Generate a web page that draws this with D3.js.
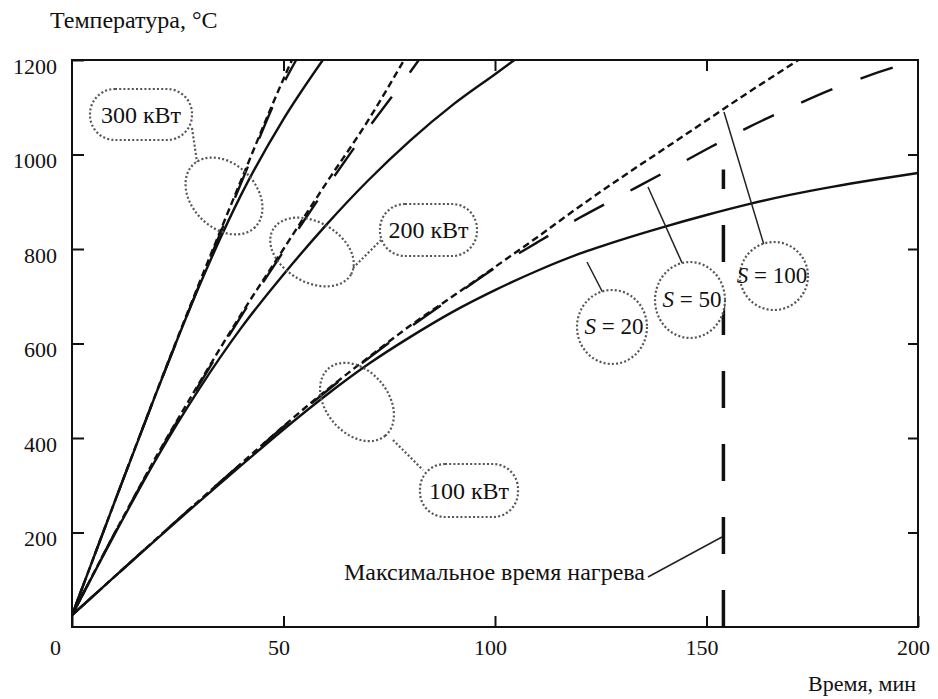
<!DOCTYPE html>
<html><head><meta charset="utf-8">
<script src="https://cdn.jsdelivr.net/npm/d3@7"></script>
<style>
html,body{margin:0;padding:0;background:#fff;}
text{font-family:"Liberation Serif","Times New Roman",serif;fill:#111;}
</style></head>
<body>
<svg id="chart" width="938" height="699"></svg>
<script>
// ---- data ----
const timeTicks = [0, 50, 100, 150, 200];
const tempTicks = [200, 400, 600, 800, 1000, 1200];
const topTicks = [50, 100, 150];

// 100 kW
const p100_S20  = [[0,25],[10,106],[20,186],[30,265],[40,342],[50,418],[60,490],[70,556],[80,614],[90,667],[100,713],[110,754],[120,790],[130,820],[140,847],[150,872],[160,895],[170,915],[180,932],[190,947],[200,961]];
const p100_S50  = [[0,25],[10,106],[20,187],[30,267],[40,346],[50,424],[60,498],[70,568],[80,635],[90,698],[100,760],[110,814],[120,866],[130,914],[140,962],[150,1011],[160,1058],[170,1100],[180,1139],[190,1172],[200,1200]];
const p100_S100 = [[0,25],[10,106],[20,187],[30,267],[40,346],[50,425],[60,500],[70,570],[80,638],[90,700],[100,762],[110,825],[120,890],[130,952],[140,1012],[150,1072],[160,1132],[170,1190],[171.7,1200]];
// 200 kW
const p200_S20  = [[0,25],[10,195],[20,357],[30,503],[40,633],[50,746],[60,850],[70,945],[80,1030],[90,1105],[100,1170],[104.6,1200]];
const p200_S50  = [[0,25],[10,197],[20,360],[30,512],[40,658],[50,795],[60,928],[70,1055],[80,1175],[82,1200]];
const p200_S100 = [[0,25],[10,197],[20,362],[30,515],[40,662],[50,800],[60,938],[70,1072],[78.5,1200]];
// 300 kW
const p300_S20  = [[0,25],[10,263],[20,497],[30,720],[40,915],[50,1075],[59.3,1200]];
const p300_S50  = [[0,25],[10,263],[20,497],[30,722],[40,940],[50,1150],[53,1200]];
const p300_S100 = [[0,25],[10,263],[20,498],[30,726],[40,946],[50,1160],[52,1200]];

const maxHeatTime = 154;
const maxHeatTop = 968;

const powerLabels = ["300 кВт", "200 кВт", "100 кВт"];
const sLabels = ["20", "50", "100"];

// ---- drawing ----
const svg = d3.select("#chart");
const L = 72, R = 918, T = 60, B = 627;
const x = d3.scaleLinear().domain([0, 200]).range([L, R]);
const y = d3.scaleLinear().domain([0, 1200]).range([B, T]);

svg.append("defs").append("clipPath").attr("id","clip")
  .append("rect").attr("x",L).attr("y",T).attr("width",R-L).attr("height",B-T);

const line = d3.line().x(d => x(d[0])).y(d => y(d[1])).curve(d3.curveMonotoneX);

const dashS50 = "34,30", dashS100 = "7,4";
const series = [
  {d:p100_S20, dash:null}, {d:p100_S50, dash:dashS50}, {d:p100_S100, dash:dashS100},
  {d:p200_S20, dash:null}, {d:p200_S50, dash:dashS50}, {d:p200_S100, dash:dashS100},
  {d:p300_S20, dash:null}, {d:p300_S50, dash:dashS50}, {d:p300_S100, dash:dashS100}
];
const gl = svg.append("g").attr("clip-path","url(#clip)");
series.forEach(s => {
  gl.append("path").attr("d", line(s.d)).attr("fill","none")
    .attr("stroke","#111").attr("stroke-width",2.4)
    .attr("stroke-dasharray", s.dash);
});

// vertical max heating time line
gl.append("line").attr("x1",x(maxHeatTime)).attr("x2",x(maxHeatTime))
  .attr("y1",y(0)).attr("y2",y(maxHeatTop))
  .attr("stroke","#111").attr("stroke-width",3.5).attr("stroke-dasharray","37,36");

// axes
const yAxis = svg.append("g").attr("transform",`translate(${L},0)`)
  .call(d3.axisLeft(y).tickValues(tempTicks).tickFormat(d3.format("d"))
    .tickSizeInner(-12).tickSizeOuter(0).tickPadding(15));
yAxis.select(".domain").remove();
yAxis.selectAll("text").attr("dy","0.6em").attr("font-size",22).attr("font-family",null);
yAxis.selectAll("line").attr("stroke","#111").attr("stroke-width",2);

const yAxisR = svg.append("g").attr("transform",`translate(${R},0)`)
  .call(d3.axisRight(y).tickValues(tempTicks.slice(0,5)).tickSizeInner(-10).tickSizeOuter(0).tickFormat(""));
yAxisR.select(".domain").remove();
yAxisR.selectAll("line").attr("stroke","#111").attr("stroke-width",2);

const xAxisT = svg.append("g").attr("transform",`translate(0,${T})`)
  .call(d3.axisTop(x).tickValues(topTicks).tickSizeInner(-11).tickSizeOuter(0).tickFormat(""));
xAxisT.select(".domain").remove();
xAxisT.selectAll("line").attr("stroke","#111").attr("stroke-width",2);

const xAxis = svg.append("g").attr("transform",`translate(0,${B})`)
  .call(d3.axisBottom(x).tickValues(timeTicks).tickFormat(d3.format("d"))
    .tickSizeInner(-11).tickSizeOuter(0).tickPadding(12));
xAxis.select(".domain").remove();
xAxis.selectAll("line").attr("stroke","#111").attr("stroke-width",2);
xAxis.selectAll("text").attr("font-size",22).attr("font-family",null)
  .attr("dx", d => d === 0 ? -17 : -5);

svg.selectAll(".tick text").style("fill","#111");

// frame
svg.append("rect").attr("x",L).attr("y",T).attr("width",R-L).attr("height",B-T)
  .attr("fill","none").attr("stroke","#111").attr("stroke-width",2);

// axis titles
svg.append("text").attr("x",50).attr("y",28).attr("font-size",24).text("Температура, °C");
svg.append("text").attr("x",916).attr("y",691).attr("font-size",22).attr("text-anchor","end").text("Время, мин");

// annotations
const dotted = g => g.attr("fill","none").attr("stroke","#555").attr("stroke-width",2.2)
  .attr("stroke-dasharray","2,2.2");
const ann = svg.append("g");

// loops around curve groups
[[224,196,44,32,45],[312,252,45,30,30],[357,402,44,31,50]].forEach(e => {
  ann.append("ellipse").attr("cx",0).attr("cy",0).attr("rx",e[2]).attr("ry",e[3])
    .attr("transform",`translate(${e[0]},${e[1]}) rotate(${e[4]})`).call(dotted);
});
// connectors
[[192,128,197,162],[353,268,381,240],[393,440,423,470]].forEach(c => {
  ann.append("line").attr("x1",c[0]).attr("y1",c[1]).attr("x2",c[2]).attr("y2",c[3]).call(dotted);
});
// power label boxes
[[90,89,102,51],[380,204,97,52],[420,464,98,53]].forEach((b,i) => {
  ann.append("rect").attr("x",b[0]).attr("y",b[1]).attr("width",b[2]).attr("height",b[3])
    .attr("rx",25).attr("ry",25).call(dotted).attr("fill","#fff");
  ann.append("text").attr("x",b[0]+b[2]/2).attr("y",b[1]+b[3]/2+8)
    .attr("text-anchor","middle").attr("font-size",24).text(powerLabels[i]);
});

// S leaders
[[587,262,603,293],[648,187,683,265],[724,112,764,245]].forEach(c => {
  ann.append("line").attr("x1",c[0]).attr("y1",c[1]).attr("x2",c[2]).attr("y2",c[3])
    .attr("stroke","#222").attr("stroke-width",1.5);
});
// S circles
[[612,327,35,37],[690,300,35,38],[774,276,34,34]].forEach((c,i) => {
  ann.append("ellipse").attr("cx",c[0]).attr("cy",c[1]).attr("rx",c[2]).attr("ry",c[3])
    .call(dotted).attr("fill", "#fff");
  const t = ann.append("text").attr("x",c[0] + (i===2 ? -2 : 2)).attr("y",c[1]+7)
    .attr("text-anchor","middle").attr("font-size",23);
  t.append("tspan").attr("font-style","italic").text("S");
  t.append("tspan").text(" = " + sLabels[i]);
});

// max heating time annotation
ann.append("line").attr("x1",648).attr("y1",577).attr("x2",722).attr("y2",537)
  .attr("stroke","#222").attr("stroke-width",1.5);
ann.append("text").attr("x",645).attr("y",580).attr("text-anchor","end")
  .attr("font-size",24).text("Максимальное время нагрева");
</script>
</body></html>
